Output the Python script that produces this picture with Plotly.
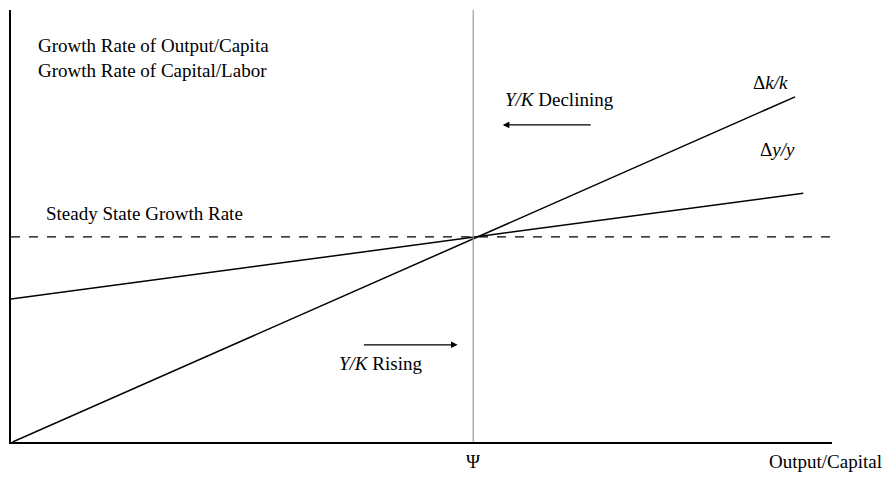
import plotly.graph_objects as go

# Data (unitless diagram coordinates, x: 0-100, y: 0-100)
dk_x = [0.2, 95.5]
dk_y = [0.0, 79.9]
dy_x = [0.0, 96.5]
dy_y = [33.1, 57.6]
steady_y = 47.5
psi_x = 56.3
x_range = [0, 100]
y_range = [0, 100]

FONT = "Liberation Serif"
FS = 19
fig = go.Figure()

fig.add_trace(go.Scatter(x=dk_x, y=dk_y, mode="lines",
                         line=dict(color="black", width=1.5), showlegend=False, hoverinfo="skip"))
fig.add_trace(go.Scatter(x=dy_x, y=dy_y, mode="lines",
                         line=dict(color="black", width=1.5), showlegend=False, hoverinfo="skip"))
fig.add_trace(go.Scatter(x=x_range, y=[steady_y, steady_y], mode="lines",
                         line=dict(color="black", width=1.2, dash="dash"), showlegend=False, hoverinfo="skip"))
fig.add_trace(go.Scatter(x=[psi_x, psi_x], y=y_range, mode="lines",
                         line=dict(color="#999999", width=1.2), showlegend=False, hoverinfo="skip"))

anns = [
    dict(x=3.0, y=88.8, text="Growth Rate of Output/Capita<br>Growth Rate of Capital/Labor",
         xanchor="left", yanchor="middle", align="left"),
    dict(x=4.0, y=52.8, text="Steady State Growth Rate", xanchor="left", yanchor="middle"),
    dict(x=59.9, y=79.2, text="<i>Y/K</i> Declining", xanchor="left", yanchor="middle"),
    dict(x=39.7, y=18.1, text="<i>Y/K</i> Rising", xanchor="left", yanchor="middle"),
    dict(x=94.9, y=83.3, text="Δ<i>k/k</i>", xanchor="right", yanchor="middle"),
    dict(x=95.7, y=67.6, text="Δ<i>y/y</i>", xanchor="right", yanchor="middle"),
]
for a in anns:
    fig.add_annotation(xref="x", yref="y", showarrow=False,
                       font=dict(family=FONT, size=FS, color="black"), **a)

# labels below the x axis (paper y)
fig.add_annotation(x=psi_x / 100, y=-0.046, xref="paper", yref="paper", text="Ψ", showarrow=False,
                   xanchor="center", yanchor="middle", font=dict(family=FONT, size=FS, color="black"))
fig.add_annotation(x=0.9205, y=-0.046, xref="paper", yref="paper", text="Output/Capital", showarrow=False,
                   xanchor="left", yanchor="middle", font=dict(family=FONT, size=FS, color="black"))

# arrows
fig.add_annotation(x=59.9, y=73.4, ax=70.8, ay=73.4, xref="x", yref="y", axref="x", ayref="y",
                   showarrow=True, arrowhead=2, arrowsize=1.1, arrowwidth=1.2, arrowcolor="black", text="")
fig.add_annotation(x=54.4, y=22.5, ax=42.8, ay=22.5, xref="x", yref="y", axref="x", ayref="y",
                   showarrow=True, arrowhead=2, arrowsize=1.1, arrowwidth=1.2, arrowcolor="black", text="")

fig.update_layout(
    width=882, height=473,
    margin=dict(l=3, r=58, t=2, b=39),
    paper_bgcolor="white", plot_bgcolor="white",
    font=dict(family=FONT, size=FS, color="black"),
    xaxis=dict(range=x_range, showgrid=False, zeroline=False, showticklabels=False, ticks="",
               showline=True, linecolor="black", linewidth=1.5),
    yaxis=dict(range=y_range, showgrid=False, zeroline=False, showticklabels=False, ticks="",
               showline=True, linecolor="black", linewidth=1.5),
)

fig.write_html("out.html")
